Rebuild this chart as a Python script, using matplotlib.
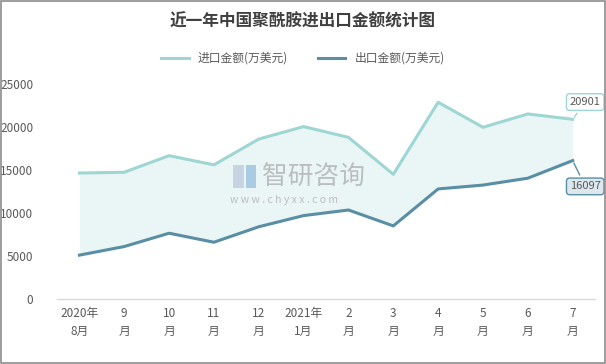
import matplotlib
matplotlib.use("Agg")
import matplotlib.pyplot as plt
from matplotlib.patches import Rectangle

plt.rcParams['font.family'] = ['Noto Sans CJK SC', 'DejaVu Sans']

months = ["2020年\n8月", "9\n月", "10\n月", "11\n月", "12\n月", "2021年\n1月",
          "2\n月", "3\n月", "4\n月", "5\n月", "6\n月", "7\n月"]
imports = [14650, 14740, 16670, 15600, 18600, 20050, 18800, 14500, 22880, 19970, 21520, 20901]
exports = [5100, 6100, 7650, 6600, 8400, 9700, 10350, 8500, 12800, 13250, 14050, 16097]
yticks = [0, 5000, 10000, 15000, 20000, 25000]

imp_color = "#9DD6D2"
exp_color = "#5A8EA4"
fill_color = "#EAF6F6"
text_color = "#595959"

fig = plt.figure(figsize=(6.06, 3.64), dpi=100)
ax = fig.add_axes([0.094, 0.1786, 0.888, 0.5905])
x = list(range(len(months)))

ax.fill_between(x, exports, imports, color=fill_color, linewidth=0, zorder=1)
ax.plot(x, imports, color=imp_color, linewidth=2.2, label="进口金额(万美元)", zorder=3)
ax.plot(x, exports, color=exp_color, linewidth=2.2, label="出口金额(万美元)", zorder=3)

ax.set_xlim(-0.5, len(months) - 0.5)
ax.set_ylim(0, 25000)
ax.set_yticks(yticks)
ax.set_yticklabels([str(v) for v in yticks], fontsize=8.5, color=text_color)
ax.set_xticks(x)
ax.set_xticklabels(months, fontsize=8.5, color=text_color, linespacing=1.5)
ax.tick_params(axis='both', length=0)
ax.tick_params(axis='y', pad=17)
ax.tick_params(axis='x', pad=6)
for s in ["top", "right", "left"]:
    ax.spines[s].set_visible(False)
ax.spines["bottom"].set_color("#D9D9D9")
ax.spines["bottom"].set_linewidth(1)

# callouts
ax.annotate(str(imports[-1]), xy=(x[-1], imports[-1]), xytext=(x[-1] + 0.28, imports[-1] + 2000),
            fontsize=8, color=text_color, ha="center", va="center",
            bbox=dict(boxstyle="round,pad=0.3", fc="white", ec=imp_color, lw=1),
            arrowprops=dict(arrowstyle="-", color=imp_color, lw=1), zorder=5)
ax.annotate(str(exports[-1]), xy=(x[-1], exports[-1]), xytext=(x[-1] + 0.28, exports[-1] - 3000),
            fontsize=8, color=text_color, ha="center", va="center",
            bbox=dict(boxstyle="round,pad=0.3", fc="#DDE7EE", ec=exp_color, lw=1),
            arrowprops=dict(arrowstyle="-", color=exp_color, lw=1), zorder=5)

# watermark
fig.text(0.432, 0.515, "智研咨询", fontsize=18.5, color="#B0B0B0", ha="left", va="center", alpha=0.8)
fig.text(0.38, 0.45, "w w w . c h y x x . c o m", fontsize=7.5, color="#B0B0B0", ha="left", va="center", alpha=0.8)
ax_logo = fig.add_axes([0.383, 0.475, 0.042, 0.08])
ax_logo.axis("off")
ax_logo.add_patch(Rectangle((0.05, 0.1), 0.4, 0.8, fc="#C5D3E3", ec="none"))
ax_logo.add_patch(Rectangle((0.55, 0.1), 0.4, 0.8, fc="#A9CBE3", ec="none"))
ax_logo.set_xlim(0, 1); ax_logo.set_ylim(0, 1)

fig.text(0.5, 0.94, "近一年中国聚酰胺进出口金额统计图", fontsize=12, fontweight="bold",
         color="#404040", ha="center", va="center")
fig.legend(loc="center", bbox_to_anchor=(0.5, 0.84), ncol=2, frameon=False, fontsize=8.5,
           handlelength=2.3, columnspacing=2.5, labelcolor=text_color)

fig.add_artist(Rectangle((0.001, 0.002), 0.997, 0.996, transform=fig.transFigure,
                         fill=False, ec="#8C8C8C", lw=1.2))

fig.savefig("out.png", dpi=100)
